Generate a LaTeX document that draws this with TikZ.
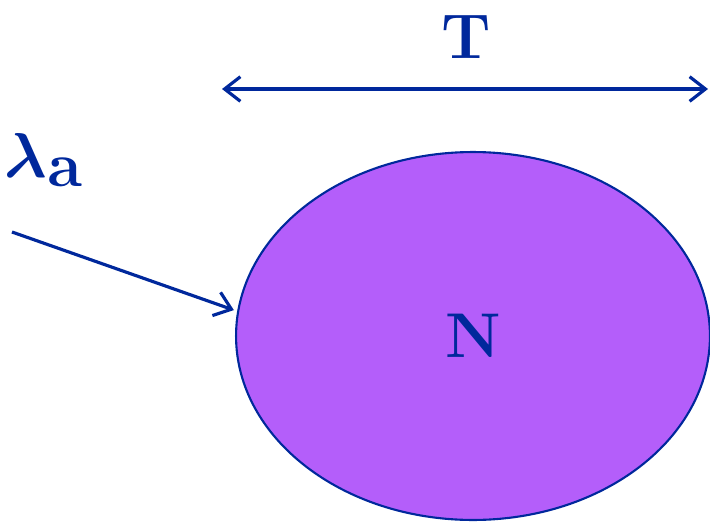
\documentclass[tikz,border=0pt]{standalone}
\usepackage{amsmath, amssymb}
\usepackage{tikz}
\usetikzlibrary{arrows.meta, shapes.geometric}

\definecolor{azul}{RGB}{0,40,156}
\definecolor{morado}{RGB}{180,94,250}

\tikzset{
    flecha/.style={azul, line width=1.8pt, -{Straight Barb[length=9pt, width=14pt, line width=1.8pt]}},
    doble/.style={azul, line width=1.8pt, {Straight Barb[length=9pt, width=14pt, line width=1.8pt]}-{Straight Barb[length=9pt, width=14pt, line width=1.8pt]}},
    etiqueta/.style={text=azul, font=\fontsize{36}{40}\selectfont\bfseries}
}

\begin{document}
\begin{tikzpicture}[x=0.02cm, y=-0.02cm]
        \useasboundingbox (0,0) rectangle (710,521);
        \clip (0,0) rectangle (710,521);

        % Conjunto
        \node[ellipse, draw=azul, line width=1.2pt, fill=morado, minimum width=9.48cm, minimum height=7.36cm, inner sep=0pt, etiqueta] (N) at (473,336) {N};

        % Intervalo de tiempo
        \coordinate (t1) at (222,89);
        \coordinate (t2) at (708,89);
        \draw[doble] (t1) -- (t2);
        \node[etiqueta] (T) at (466,37) {T};

        % Llegadas
        \node[etiqueta, scale=1.45] (lam) at (44,160) {$\boldsymbol{\lambda}_{\mathbf{a}}$};
        \coordinate (src) at (12,232);
        \draw[flecha, shorten >=2pt] (src) -- (N.174);
    \end{tikzpicture}
\end{document}
